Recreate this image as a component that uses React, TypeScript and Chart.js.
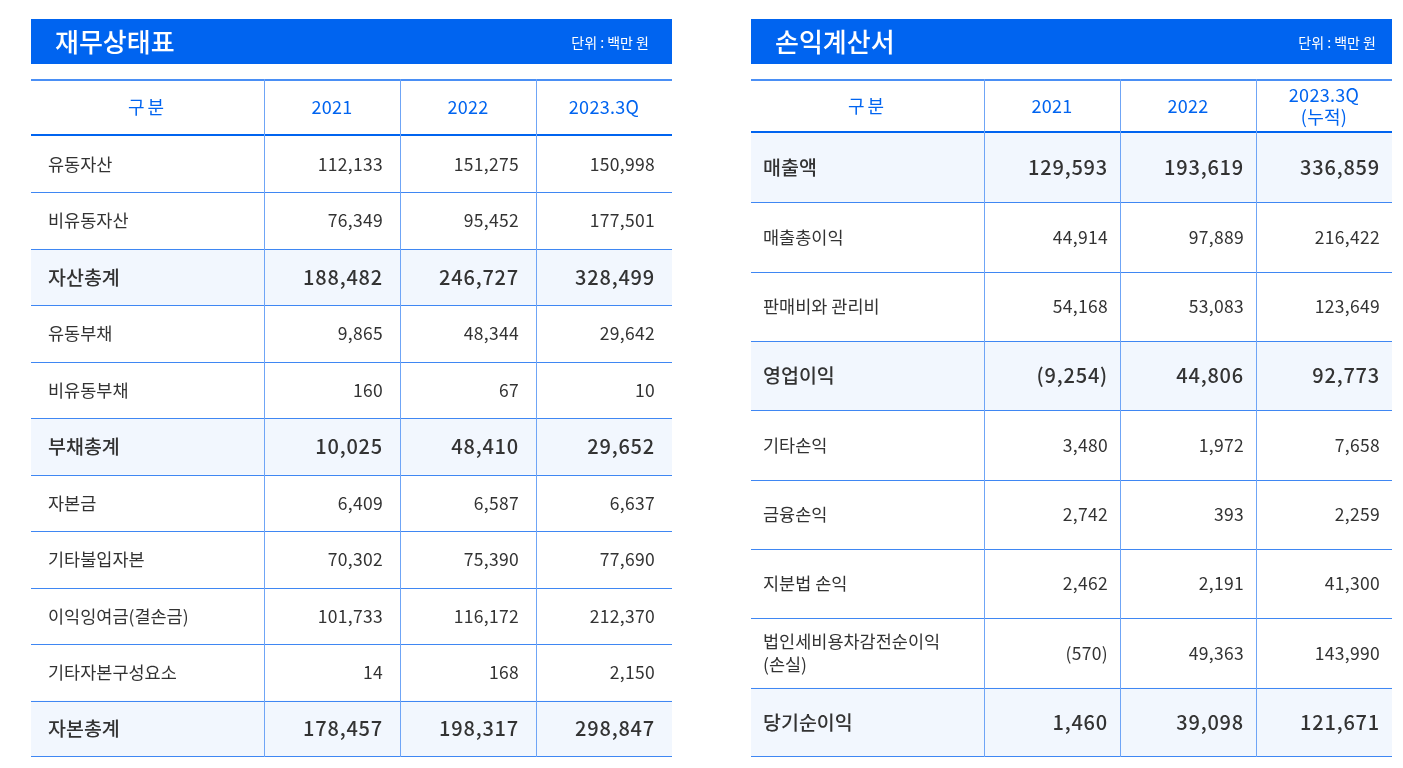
import React, { useEffect, useRef } from 'react';
import { Chart, registerables } from 'chart.js';

Chart.register(...registerables);

// ---------- data ----------
const bsTitle = '재무상태표';
const isTitle = '손익계산서';
const unitLabel = '단위 : 백만 원';

const bsHeaders = ['구분', '2021', '2022', '2023.3Q'];
const bsLabels = ['유동자산', '비유동자산', '자산총계', '유동부채', '비유동부채', '부채총계', '자본금', '기타불입자본', '이익잉여금(결손금)', '기타자본구성요소', '자본총계'];
const bs2021 = [112133, 76349, 188482, 9865, 160, 10025, 6409, 70302, 101733, 14, 178457];
const bs2022 = [151275, 95452, 246727, 48344, 67, 48410, 6587, 75390, 116172, 168, 198317];
const bs2023 = [150998, 177501, 328499, 29642, 10, 29652, 6637, 77690, 212370, 2150, 298847];
const bsTotals = [false, false, true, false, false, true, false, false, false, false, true];

const isHeaders = ['구분', '2021', '2022', '2023.3Q\n(누적)'];
const isLabels = ['매출액', '매출총이익', '판매비와 관리비', '영업이익', '기타손익', '금융손익', '지분법 손익', '법인세비용차감전순이익\n(손실)', '당기순이익'];
const is2021 = [129593, 44914, 54168, -9254, 3480, 2742, 2462, -570, 1460];
const is2022 = [193619, 97889, 53083, 44806, 1972, 393, 2191, 49363, 39098];
const is2023 = [336859, 216422, 123649, 92773, 7658, 2259, 41300, 143990, 121671];
const isTotals = [true, false, false, true, false, false, false, false, true];

// ---------- styles ----------
const BLUE = '#0064f0';
const LINE = '#3f87f3';
const VLINE = '#6fa5f6';
const TOTAL_BG = '#f2f7fe';
const TEXT = '#333333';
const FONT = '"Noto Sans CJK KR", "Noto Sans", sans-serif';
const COL_EDGES = [0, 233 / 641, 369 / 641, 505 / 641, 1];

const fmt = (v: number) => (v < 0 ? '(' + Math.abs(v).toLocaleString('en-US') + ')' : v.toLocaleString('en-US'));

const tablePlugin = {
  id: 'tableCells',
  afterDraw(chart: any, _args: any, o: any) {
    const ctx: CanvasRenderingContext2D = chart.ctx;
    const xs = chart.scales.x;
    const ys = chart.scales.y;
    const area = chart.chartArea;
    const W = chart.width;
    const n = o.labels.length;
    const edges = COL_EDGES.map((e) => xs.getPixelForValue(e));
    const rowEdge = (i: number) => ys.getPixelForValue(i - 0.5);
    ctx.save();

    // title bar
    ctx.fillStyle = BLUE;
    ctx.fillRect(0, 0, W, 45);
    ctx.fillStyle = '#ffffff';
    ctx.textBaseline = 'middle';
    ctx.textAlign = 'left';
    ctx.font = `500 26px ${FONT}`;
    ctx.fillText(o.title, 24, 23);
    ctx.font = `400 14px ${FONT}`;
    ctx.textAlign = 'right';
    ctx.fillText(o.unit, W - o.unitRight, 24);

    // total row backgrounds
    for (let i = 0; i < n; i++) {
      if (o.totals[i]) {
        ctx.fillStyle = TOTAL_BG;
        const t = rowEdge(i);
        const b = rowEdge(i + 1);
        ctx.fillRect(edges[0], t, edges[4] - edges[0], b - t);
      }
    }

    // horizontal lines
    ctx.fillStyle = '#4a8ff5';
    ctx.fillRect(0, 60, W, 2);
    ctx.fillStyle = BLUE;
    ctx.fillRect(0, area.top - 2, W, 2);
    ctx.fillStyle = LINE;
    for (let i = 1; i <= n; i++) {
      const yy = Math.round(rowEdge(i + 0));
      if (i === n) ctx.fillRect(0, yy - 1, W, 1);
      else ctx.fillRect(0, yy, W, 1);
    }

    // vertical lines
    ctx.fillStyle = VLINE;
    for (let c = 1; c < 4; c++) {
      ctx.fillRect(Math.round(edges[c]), 60, 1, area.bottom - 60);
    }

    // header text
    ctx.fillStyle = BLUE;
    ctx.textAlign = 'center';
    ctx.font = `400 18px ${FONT}`;
    const hMid = (62 + area.top - 2) / 2;
    o.headers.forEach((h: string, c: number) => {
      const lines = h.split('\n');
      const cx = (edges[c] + edges[c + 1]) / 2;
      (ctx as any).letterSpacing = c === 0 ? '3px' : '0.3px';
      lines.forEach((ln, k) => {
        ctx.fillText(ln, cx, hMid + (k - (lines.length - 1) / 2) * 22);
      });
    });
    (ctx as any).letterSpacing = '0px';

    // labels
    ctx.fillStyle = TEXT;
    ctx.textAlign = 'left';
    o.labels.forEach((lab: string, i: number) => {
      const cy = ys.getPixelForValue(i);
      ctx.font = o.totals[i] ? `500 19.5px ${FONT}` : `400 17.5px ${FONT}`;
      const lines = lab.split('\n');
      lines.forEach((ln, k) => {
        ctx.fillText(ln, edges[0] + o.pad, cy + (k - (lines.length - 1) / 2) * 23);
      });
    });

    // values, placed from the dataset elements
    ctx.textAlign = 'right';
    chart.data.datasets.forEach((ds: any, d: number) => {
      const meta = chart.getDatasetMeta(d);
      meta.data.forEach((el: any, i: number) => {
        const bold = o.totals[i];
        ctx.font = bold ? `500 20px ${FONT}` : `400 17.5px ${FONT}`;
        (ctx as any).letterSpacing = bold ? '0.8px' : '0.3px';
        ctx.fillText(fmt(ds.data[i].v), el.x - o.pad, el.y);
      });
    });
    (ctx as any).letterSpacing = '0px';
    ctx.restore();
  },
};

type TableProps = {
  title: string;
  headers: string[];
  labels: string[];
  series: number[][];
  totals: boolean[];
  bodyTop: number;
  pad: number;
  unitRight: number;
  left: number;
};

function FinTable(p: TableProps) {
  const ref = useRef<HTMLCanvasElement | null>(null);
  useEffect(() => {
    if (!ref.current) return;
    const n = p.labels.length;
    const chart = new Chart(ref.current, {
      type: 'scatter',
      data: {
        datasets: p.series.map((vals, c) => ({
          label: p.headers[c + 1],
          data: vals.map((v, i) => ({ x: COL_EDGES[c + 2], y: i, v })),
          pointRadius: 0,
          pointHoverRadius: 0,
        })),
      } as any,
      options: {
        animation: false,
        responsive: false,
        maintainAspectRatio: false,
        devicePixelRatio: 1,
        events: [],
        layout: { padding: { top: p.bodyTop, left: 0, right: 0, bottom: 2 } },
        scales: {
          x: { type: 'linear', min: 0, max: 1, display: false },
          y: { type: 'linear', min: -0.5, max: n - 0.5, reverse: true, display: false },
        },
        plugins: {
          legend: { display: false },
          tooltip: { enabled: false },
          tableCells: {
            title: p.title,
            unit: unitLabel,
            headers: p.headers,
            labels: p.labels,
            totals: p.totals,
            pad: p.pad,
            unitRight: p.unitRight,
          },
        } as any,
      },
      plugins: [tablePlugin],
    });
    return () => chart.destroy();
  }, []);
  return (
    <canvas
      ref={ref}
      width={641}
      height={740}
      style={{ position: 'absolute', left: p.left, top: 19, width: 641, height: 740 }}
    />
  );
}

export default function App() {
  return (
    <div style={{ position: 'fixed', left: 0, top: 0, width: 1403, height: 768, background: '#ffffff', overflow: 'hidden' }}>
      <FinTable
        title={bsTitle}
        headers={bsHeaders}
        labels={bsLabels}
        series={[bs2021, bs2022, bs2023]}
        totals={bsTotals}
        bodyTop={117}
        pad={17}
        unitRight={23}
        left={31}
      />
      <FinTable
        title={isTitle}
        headers={isHeaders}
        labels={isLabels}
        series={[is2021, is2022, is2023]}
        totals={isTotals}
        bodyTop={114}
        pad={12}
        unitRight={16}
        left={751}
      />
    </div>
  );
}
